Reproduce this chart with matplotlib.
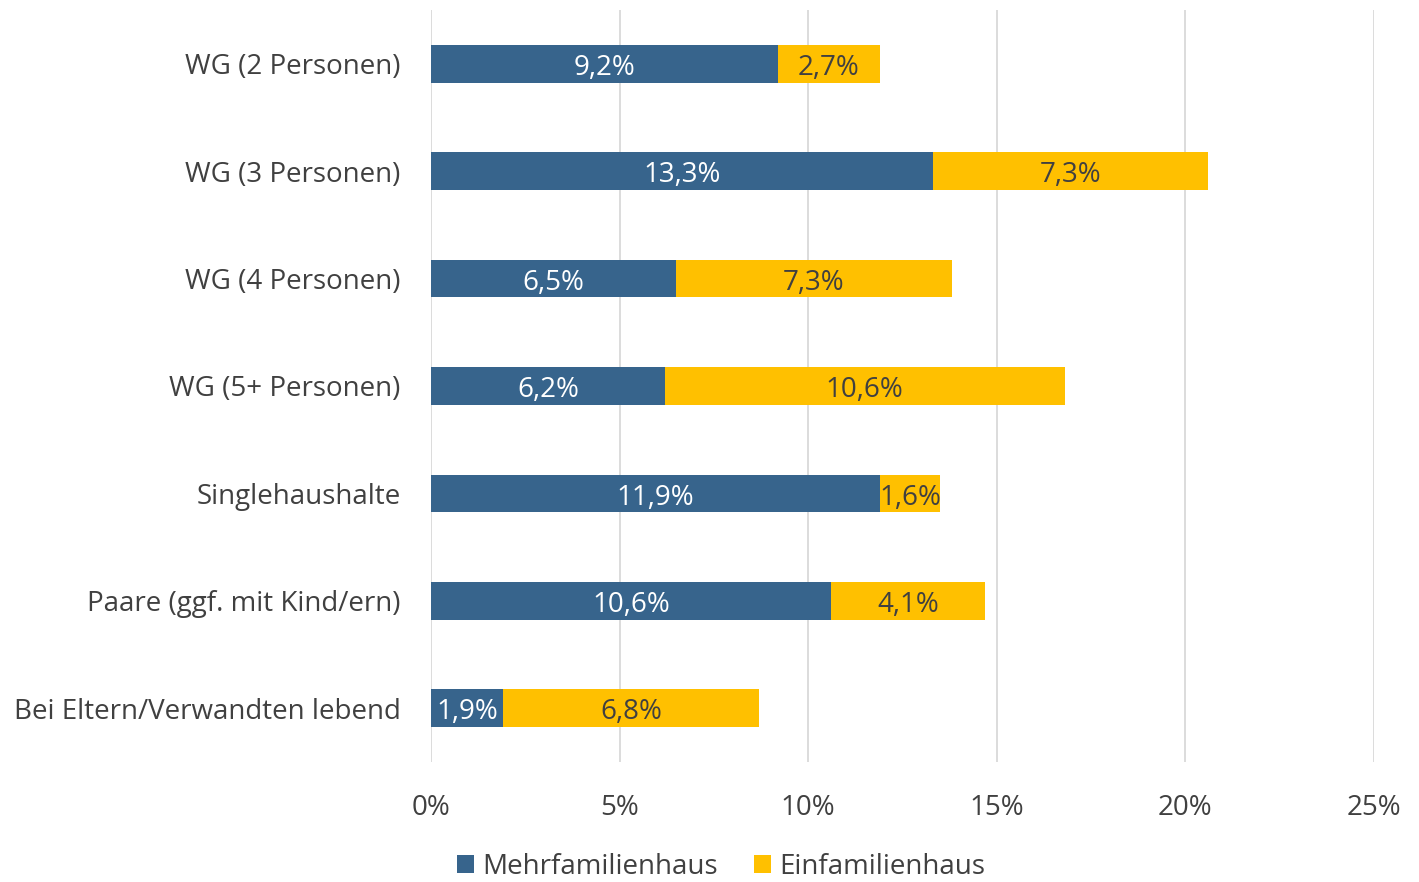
import matplotlib
matplotlib.use("Agg")
import matplotlib.pyplot as plt
from matplotlib.ticker import FuncFormatter

plt.rcParams['font.family'] = ['Open Sans', 'DejaVu Sans']

categories = ["WG (2 Personen)", "WG (3 Personen)", "WG (4 Personen)", "WG (5+ Personen)",
              "Singlehaushalte", "Paare (ggf. mit Kind/ern)", "Bei Eltern/Verwandten lebend"]
mehrfamilienhaus = [9.2, 13.3, 6.5, 6.2, 11.9, 10.6, 1.9]
einfamilienhaus = [2.7, 7.3, 7.3, 10.6, 1.6, 4.1, 6.8]
xticks = [0, 5, 10, 15, 20, 25]

BLUE = "#37648c"
YELLOW = "#ffc000"
TEXT = "#404040"
FS = 20

fig = plt.figure(figsize=(14.19, 8.82), dpi=100)
ax = fig.add_axes([431 / 1419, 1 - 762 / 882, (1374 - 431) / 1419, (762 - 10) / 882])

y = list(range(len(categories)))
h = 0.35
ax.barh(y, mehrfamilienhaus, height=h, color=BLUE, label="Mehrfamilienhaus", zorder=3)
ax.barh(y, einfamilienhaus, left=mehrfamilienhaus, height=h, color=YELLOW,
        label="Einfamilienhaus", zorder=3)

def fmt(v):
    return f"{v:.1f}%".replace(".", ",")

# value labels, a bit below the bar centre like the original
for i, (m, e) in enumerate(zip(mehrfamilienhaus, einfamilienhaus)):
    ax.annotate(fmt(m), (m / 2, i), xytext=(0, -3), textcoords="offset points",
                ha="center", va="center", color="white", fontsize=FS, zorder=4)
    ax.annotate(fmt(e), (m + e / 2, i), xytext=(0, -3), textcoords="offset points",
                ha="center", va="center", color=TEXT, fontsize=FS, zorder=4)

ax.set_xlim(0, 25)
ax.set_ylim(len(categories) - 0.5, -0.5)
ax.set_xticks(xticks)
ax.xaxis.set_major_formatter(FuncFormatter(lambda v, p: f"{v:.0f}%"))
ax.set_yticks(y)
ax.set_yticklabels(categories)
ax.tick_params(axis="both", length=0, labelsize=FS, labelcolor=TEXT)
ax.tick_params(axis="x", pad=23)
ax.tick_params(axis="y", pad=22)
ax.grid(axis="x", color="#d9d9d9", linewidth=1.3, zorder=0)
for s in ax.spines.values():
    s.set_visible(False)

ax.legend(loc="center", bbox_to_anchor=(721 / 1419, 1 - 867 / 882), bbox_transform=fig.transFigure,
          ncol=2, frameon=False, fontsize=FS, labelcolor=TEXT, handlelength=0.6, handleheight=0.6,
          handletextpad=0.3, columnspacing=1.3)

fig.savefig("out.png", dpi=100)
